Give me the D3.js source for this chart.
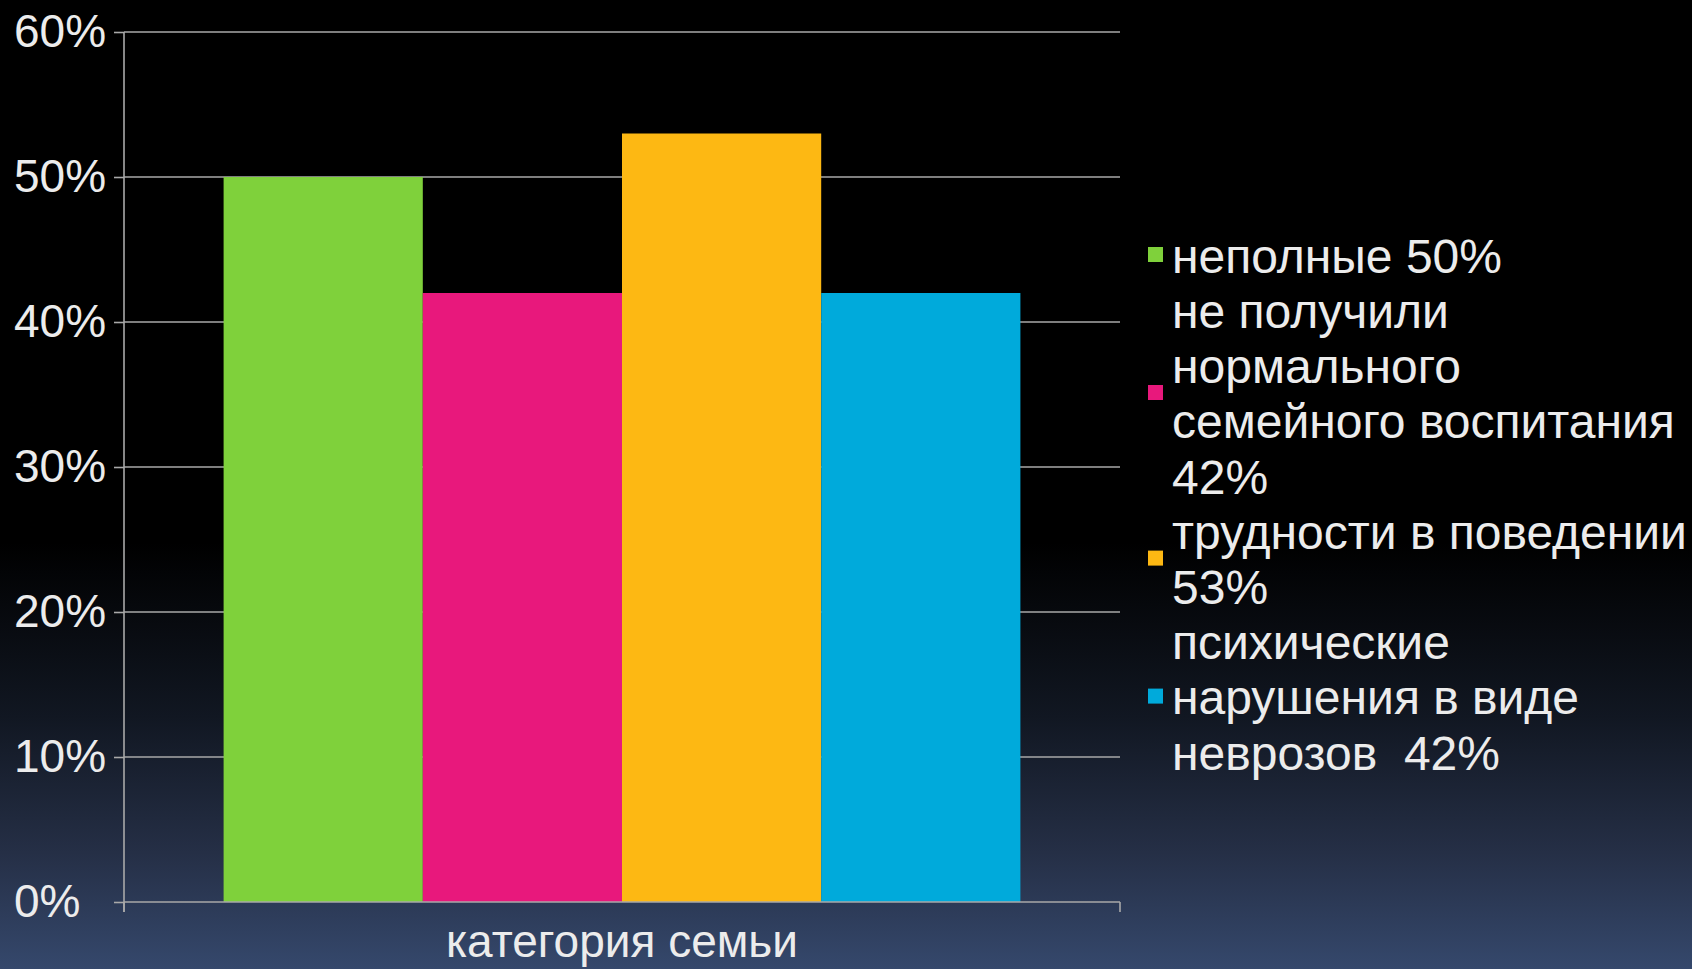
<!DOCTYPE html>
<html>
<head>
<meta charset="utf-8">
<script src="https://cdn.jsdelivr.net/npm/d3@7/dist/d3.min.js"></script>
<style>
  html, body { margin: 0; padding: 0; background: #000; }
  svg { display: block; }
  text { font-family: "Liberation Sans", Arial, sans-serif; fill: #ececec; }
</style>
</head>
<body>
<svg id="chart" width="1692" height="969"></svg>
<script>
const categories = ["категория семьи"];
const seriesNames = [
  "неполные 50%",
  "не получили нормального семейного воспитания 42%",
  "трудности в поведении 53%",
  "психические нарушения в виде неврозов  42%"
];
const seriesValues = [50, 42, 53, 42];
const seriesColors = ["#7fd13b", "#e8187c", "#fdb813", "#00aadb"];
const legendLines = [
  ["неполные 50%"],
  ["не получили", "нормального", "семейного воспитания", "42%"],
  ["трудности в поведении", "53%"],
  ["психические", "нарушения в виде", "неврозов  42%"]
];
const yTicks = [0, 10, 20, 30, 40, 50, 60];

const W = 1692, H = 969;
const plot = { left: 124, right: 1120, top: 32, bottom: 902 };
const svg = d3.select("#chart");

// background gradient
const defs = svg.append("defs");
const grad = defs.append("linearGradient").attr("id", "bg")
  .attr("x1", 0).attr("y1", 0).attr("x2", 0).attr("y2", 1);
grad.append("stop").attr("offset", "0%").attr("stop-color", "#000000");
grad.append("stop").attr("offset", "56%").attr("stop-color", "#000000");
grad.append("stop").attr("offset", "74%").attr("stop-color", "#111722");
grad.append("stop").attr("offset", "88%").attr("stop-color", "#252f46");
grad.append("stop").attr("offset", "100%").attr("stop-color", "#35486c");
svg.append("rect").attr("width", W).attr("height", H).attr("fill", "url(#bg)");

const y = d3.scaleLinear().domain([0, 60]).range([plot.bottom, plot.top]);
const x0 = d3.scaleBand().domain(categories).range([plot.left, plot.right]).padding(0);
const x1 = d3.scaleBand().domain(seriesNames).range([0, x0.bandwidth()])
  .paddingInner(0).paddingOuter(0.5);

const gridColor = "#a9a9a9";

// gridlines
svg.append("g").selectAll("line").data(yTicks.filter(d => d > 0)).join("line")
  .attr("x1", plot.left).attr("x2", plot.right)
  .attr("y1", d => y(d)).attr("y2", d => y(d))
  .attr("stroke", gridColor).attr("stroke-width", 1.6);

// bars
const groups = svg.append("g").selectAll("g").data(categories).join("g")
  .attr("transform", d => `translate(${x0(d)},0)`);
groups.selectAll("rect")
  .data(() => seriesNames.map((n, i) => ({ name: n, value: seriesValues[i], color: seriesColors[i] })))
  .join("rect")
  .attr("x", d => x1(d.name))
  .attr("width", x1.bandwidth())
  .attr("y", d => y(d.value))
  .attr("height", d => y(0) - y(d.value))
  .attr("fill", d => d.color);

// y axis
const yAxis = svg.append("g").attr("transform", `translate(${plot.left},0)`)
  .call(d3.axisLeft(y).tickValues(yTicks).tickSize(10).tickPadding(6).tickFormat(d => d + "%"));
yAxis.select(".domain").remove();
yAxis.selectAll(".tick line").attr("stroke", gridColor).attr("stroke-width", 1.6);
yAxis.selectAll(".tick text")
  .attr("x", -(plot.left - 14))
  .attr("text-anchor", "start")
  .attr("font-size", 46).attr("fill", "#ececec")
  .style("font-family", "'Liberation Sans', Arial, sans-serif");
svg.append("line").attr("x1", plot.left).attr("x2", plot.left)
  .attr("y1", plot.top).attr("y2", plot.bottom + 10)
  .attr("stroke", gridColor).attr("stroke-width", 1.6);

// x axis
const xAxis = svg.append("g").attr("transform", `translate(0,${plot.bottom})`);
xAxis.append("line").attr("x1", plot.left).attr("x2", plot.right)
  .attr("stroke", gridColor).attr("stroke-width", 1.6);
xAxis.selectAll("line.t").data([plot.left, plot.right]).join("line").attr("class", "t")
  .attr("x1", d => d).attr("x2", d => d).attr("y1", 0).attr("y2", 10)
  .attr("stroke", gridColor).attr("stroke-width", 1.6);
xAxis.selectAll("text.c").data(categories).join("text").attr("class", "c")
  .attr("x", d => x0(d) + x0.bandwidth() / 2)
  .attr("y", 55)
  .attr("text-anchor", "middle")
  .attr("font-size", 46)
  .text(d => d);

// legend
const lineH = 55.2;
const firstLineY = 256;
const legend = svg.append("g");
let lineIdx = 0;
legendLines.forEach((lines, i) => {
  const startY = firstLineY + lineIdx * lineH;
  const centerY = startY + (lines.length - 1) * lineH / 2;
  legend.append("rect")
    .attr("x", 1148).attr("y", centerY - 9)
    .attr("width", 15).attr("height", 15)
    .attr("fill", seriesColors[i]);
  legend.selectAll(null).data(lines).join("text")
    .attr("x", 1172)
    .attr("y", (d, j) => startY + j * lineH)
    .attr("dy", "0.35em")
    .attr("font-size", 48)
    .style("white-space", "pre")
    .text(d => d);
  lineIdx += lines.length;
});
</script>
</body>
</html>
